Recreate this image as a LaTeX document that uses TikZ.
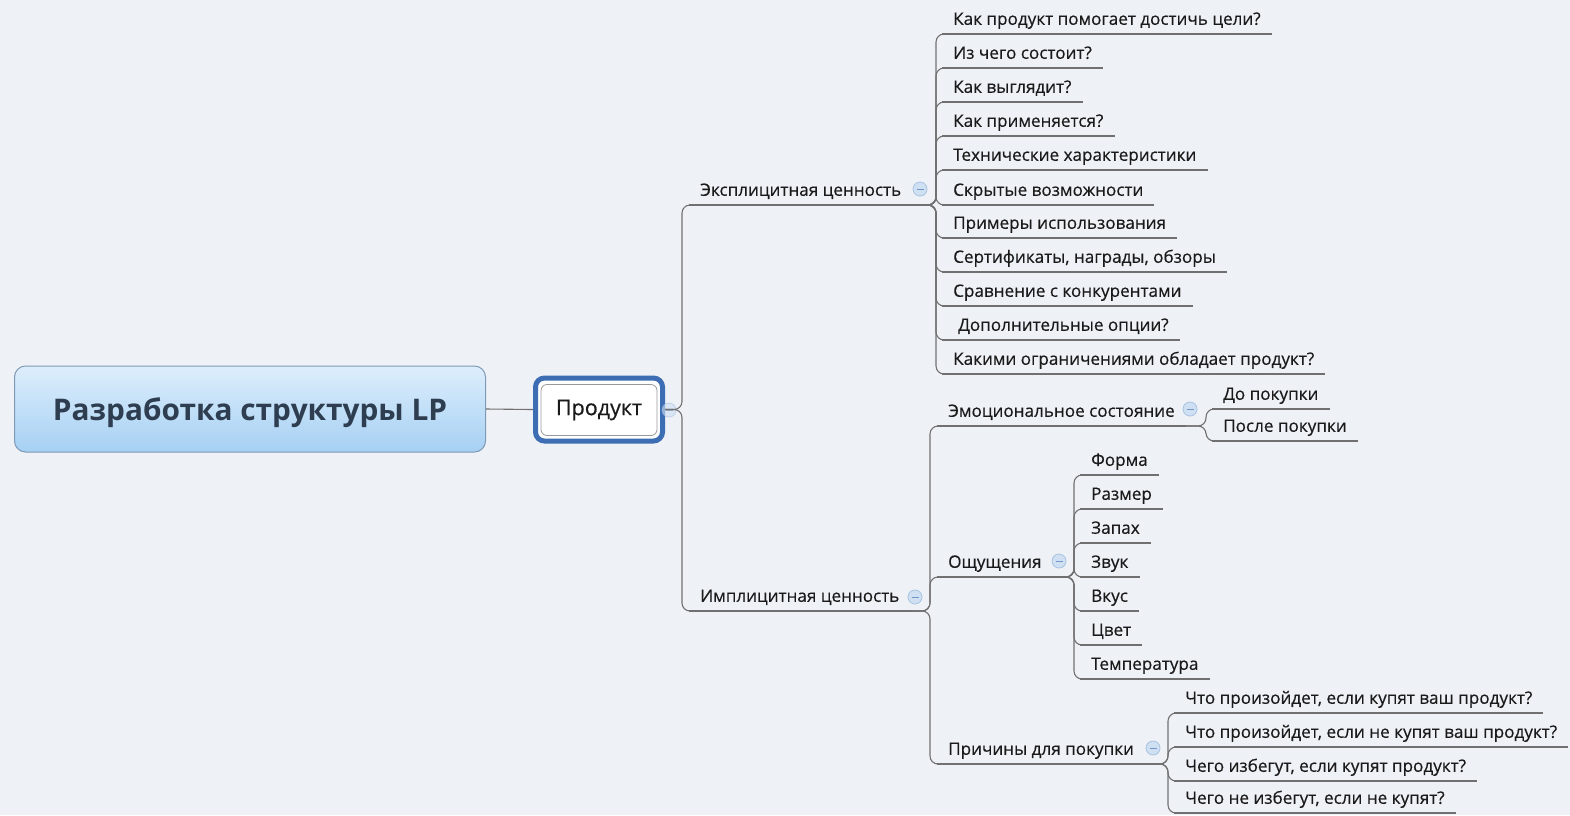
\documentclass[tikz,border=0pt]{standalone}
\usepackage{fontspec}
\newfontfamily\uifont[FakeBold=0.4]{Open Sans}
\newfontfamily\rootfont{Open Sans}
\usetikzlibrary{shadings}
\definecolor{bgc}{HTML}{EEF1F6}
\definecolor{txt}{HTML}{1A1A1A}
\definecolor{lnc}{HTML}{707070}
\definecolor{roottop}{HTML}{DDEEFC}
\definecolor{rootbot}{HTML}{A6D0F3}
\definecolor{rootdraw}{HTML}{7E9AB6}
\definecolor{roottxt}{HTML}{2E3E50}
\definecolor{prodblue}{HTML}{3D6DB3}
\definecolor{btnfill}{HTML}{CFE0F3}
\definecolor{btndraw}{HTML}{A9C3E3}
\definecolor{btnminus}{HTML}{7396C8}
\tikzset{
  leaf/.style={anchor=south west, inner xsep=11pt, inner ysep=5pt, text height=12.5pt, text depth=4pt, font=\uifont\fontsize{17.1}{20}\selectfont, text=txt},
  ul/.style={draw=lnc, line width=1.1pt},
  conn/.style={draw=lnc, line width=1.1pt, rounded corners=8pt},
  btn/.style={circle, minimum size=14pt, inner sep=0pt, fill=btnfill, draw=btndraw, line width=0.8pt,
    path picture={\draw[btnminus, line width=1pt] ([xshift=-3.5pt]path picture bounding box.center) -- ([xshift=3.5pt]path picture bounding box.center);}},
}
\begin{document}
\begin{tikzpicture}[x=1pt,y=-1pt]
\fill[bgc] (0,0) rectangle (1570,815);
\useasboundingbox (0,0) rectangle (1570,815);

% root
\node[rounded corners=11pt, top color=roottop, bottom color=rootbot, draw=rootdraw, line width=1pt,
  minimum width=471pt, minimum height=86pt, text depth=0pt, font=\rootfont\bfseries\fontsize{29.8}{34}\selectfont, text=roottxt]
  (root) at (250,409) {Разработка структуры LP};

% product
\node[draw=prodblue, line width=5pt, rounded corners=9pt, fill=white, minimum width=127pt, minimum height=63pt] (prod) at (599,409.5) {};
\node[draw=gray!80, line width=0.8pt, rounded corners=6pt, fill=white, minimum width=116pt, minimum height=51pt,
  font=\uifont\fontsize{21.5}{24}\selectfont, text=txt] (prodin) at (599,410) {Продукт};
\node[btn, opacity=0.6] (bprod) at (669,410) {};
\draw[ul] (root.east) -- (prod.west);

% trunk coordinates
\coordinate (T0) at (682,0);
\coordinate (T1) at (936,0);
\coordinate (T2) at (930,0);
\coordinate (T3) at (1206,0);
\coordinate (T4) at (1074,0);
\coordinate (T5) at (1168,0);

% level 1
\node[leaf] (ex) at (689,205) {Эксплицитная ценность};
\draw[ul] (ex.south west) -- (ex.south east);
\node[btn] (bex) at (920,189) {};
\node[leaf] (ix) at (689,611) {Имплицитная ценность};
\draw[ul] (ix.south west) -- (ix.south east);
\node[btn] (bix) at (915,597) {};
\draw[conn] (prod.east) -| (T0 |- ex.south west) -- (ex.south west);
\draw[conn] (prod.east) -| (T0 |- ix.south west) -- (ix.south west);

% explicit children
\foreach \i/\y/\t in {1/34/{Как продукт помогает достичь цели?},2/68/{Из чего состоит?},3/102/{Как выглядит?},
  4/136/{Как применяется?},5/170/{Технические характеристики},6/205/{Скрытые возможности},
  7/238/{Примеры использования},8/272/{Сертификаты, награды, обзоры},9/306/{Сравнение с конкурентами},
  10/340/{\hspace{5pt}Дополнительные опции?},11/374/{Какими ограничениями обладает продукт?}}{
  \node[leaf] (e\i) at (942,\y) {\t};
  \draw[ul] (e\i.south west) -- (e\i.south east);
  \draw[conn] (ex.south east) -| (T1 |- e\i.south west) -- (e\i.south west);
}

% implicit children
\node[leaf] (em) at (937,426) {Эмоциональное состояние};
\draw[ul] (em.south west) -- (em.south east);
\node[btn] (bem) at (1190,409) {};
\node[leaf] (os) at (937,577) {Ощущения};
\draw[ul] (os.south west) -- (os.south east);
\node[btn] (bos) at (1059,561) {};
\node[leaf] (pr) at (937,764) {Причины для покупки};
\draw[ul] (pr.south west) -- (pr.south east);
\node[btn] (bpr) at (1153,748) {};
\foreach \n in {em,os,pr}{
  \draw[conn] (ix.south east) -| (T2 |- \n.south west) -- (\n.south west);
}

% emotional
\node[leaf] (em1) at (1212,409) {До покупки};
\node[leaf] (em2) at (1212,441) {После покупки};
\foreach \n in {em1,em2}{
  \draw[ul] (\n.south west) -- (\n.south east);
  \draw[conn] (em.south east) -| (T3 |- \n.south west) -- (\n.south west);
}

% sensations
\foreach \i/\y/\t in {1/475/{Форма},2/509/{Размер},3/543/{Запах},4/577/{Звук},5/611/{Вкус},6/645/{Цвет},7/679/{Температура}}{
  \node[leaf] (s\i) at (1080,\y) {\t};
  \draw[ul] (s\i.south west) -- (s\i.south east);
  \draw[conn] (os.south east) -| (T4 |- s\i.south west) -- (s\i.south west);
}

% reasons
\foreach \i/\y/\t in {1/713/{Что произойдет, если купят ваш продукт?},2/747/{Что произойдет, если не купят ваш продукт?},
  3/781/{Чего избегут, если купят продукт?},4/813/{Чего не избегут, если не купят?}}{
  \node[leaf] (r\i) at (1174,\y) {\t};
  \draw[ul] (r\i.south west) -- (r\i.south east);
  \draw[conn] (pr.south east) -| (T5 |- r\i.south west) -- (r\i.south west);
}
\end{tikzpicture}
\end{document}
